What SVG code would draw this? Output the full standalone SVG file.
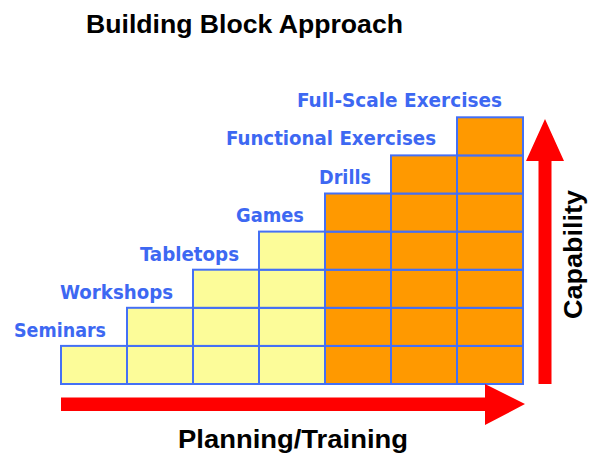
<svg xmlns="http://www.w3.org/2000/svg" width="592" height="457" viewBox="0 0 592 457">
<style>
.bg{fill:#FFFFFF}
.title{font-family:"Liberation Sans",Arial,sans-serif;font-weight:bold;fill:#000}
.lbl{font-family:"DejaVu Sans Condensed","DejaVu Sans","Liberation Sans",sans-serif;font-stretch:condensed;font-weight:bold;font-size:19.5px;fill:#3D68F2}
.y{fill:#FCFC99;stroke:#4470F5;stroke-width:2}
.o{fill:#FF9900;stroke:#4470F5;stroke-width:2}
.arrow{fill:#FF0000}
</style>
<rect class="bg" x="0" y="0" width="592" height="457"/>
<text class="title" x="86" y="33" font-size="26.5" textLength="317" lengthAdjust="spacingAndGlyphs">Building Block Approach</text>
<g id="step-seminars">
<text class="lbl" x="14" y="336.5" textLength="92" lengthAdjust="spacingAndGlyphs">Seminars</text>
<rect class="y" x="61" y="345.9" width="66" height="38.1"/>
</g>
<g id="step-workshops">
<text class="lbl" x="60" y="298.5" textLength="113" lengthAdjust="spacingAndGlyphs">Workshops</text>
<rect class="y" x="127" y="345.9" width="66" height="38.1"/>
<rect class="y" x="127" y="307.8" width="66" height="38.1"/>
</g>
<g id="step-tabletops">
<text class="lbl" x="140" y="261" textLength="99" lengthAdjust="spacingAndGlyphs">Tabletops</text>
<rect class="y" x="193" y="345.9" width="66" height="38.1"/>
<rect class="y" x="193" y="307.8" width="66" height="38.1"/>
<rect class="y" x="193" y="269.7" width="66" height="38.1"/>
</g>
<g id="step-games">
<text class="lbl" x="236" y="222" textLength="68" lengthAdjust="spacingAndGlyphs">Games</text>
<rect class="y" x="259" y="345.9" width="66" height="38.1"/>
<rect class="y" x="259" y="307.8" width="66" height="38.1"/>
<rect class="y" x="259" y="269.7" width="66" height="38.1"/>
<rect class="y" x="259" y="231.6" width="66" height="38.1"/>
</g>
<g id="step-drills">
<text class="lbl" x="319" y="183.5" textLength="52" lengthAdjust="spacingAndGlyphs">Drills</text>
<rect class="o" x="325" y="345.9" width="66" height="38.1"/>
<rect class="o" x="325" y="307.8" width="66" height="38.1"/>
<rect class="o" x="325" y="269.7" width="66" height="38.1"/>
<rect class="o" x="325" y="231.6" width="66" height="38.1"/>
<rect class="o" x="325" y="193.5" width="66" height="38.1"/>
</g>
<g id="step-functional">
<text class="lbl" x="226" y="145" textLength="210" lengthAdjust="spacingAndGlyphs">Functional Exercises</text>
<rect class="o" x="391" y="345.9" width="66" height="38.1"/>
<rect class="o" x="391" y="307.8" width="66" height="38.1"/>
<rect class="o" x="391" y="269.7" width="66" height="38.1"/>
<rect class="o" x="391" y="231.6" width="66" height="38.1"/>
<rect class="o" x="391" y="193.5" width="66" height="38.1"/>
<rect class="o" x="391" y="155.4" width="66" height="38.1"/>
</g>
<g id="step-fullscale">
<text class="lbl" x="297" y="107" textLength="205" lengthAdjust="spacingAndGlyphs">Full-Scale Exercises</text>
<rect class="o" x="457" y="345.9" width="66" height="38.1"/>
<rect class="o" x="457" y="307.8" width="66" height="38.1"/>
<rect class="o" x="457" y="269.7" width="66" height="38.1"/>
<rect class="o" x="457" y="231.6" width="66" height="38.1"/>
<rect class="o" x="457" y="193.5" width="66" height="38.1"/>
<rect class="o" x="457" y="155.4" width="66" height="38.1"/>
<rect class="o" x="457" y="117.3" width="66" height="38.1"/>
</g>
<g id="connectors">
<polygon class="arrow" points="61,397.5 485,397.5 485,384 525,404 485,425 485,411 61,411"/>
<polygon class="arrow" points="538.5,384 538.5,161 526,161 545,119 564,161 551.5,161 551.5,384"/>
</g>
<text class="title" x="178" y="448" font-size="26" textLength="230" lengthAdjust="spacingAndGlyphs">Planning/Training</text>
<text class="title" transform="translate(581.5,319) rotate(-90)" x="0" y="0" font-size="26.5" textLength="129" lengthAdjust="spacingAndGlyphs">Capability</text>
</svg>
